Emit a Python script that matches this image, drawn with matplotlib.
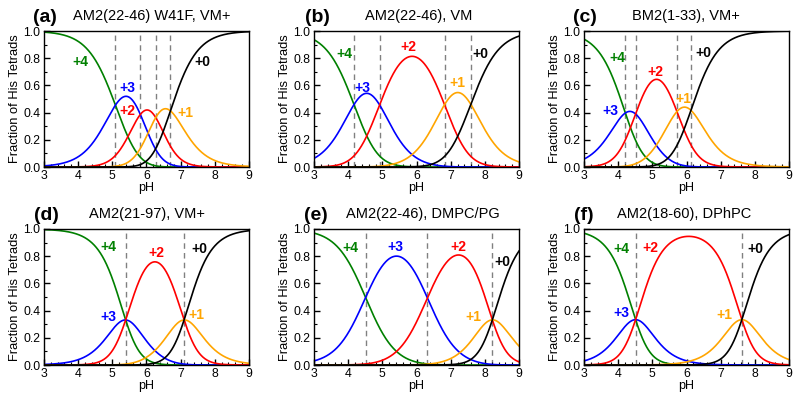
import numpy as np
import matplotlib
matplotlib.use("Agg")
import matplotlib.pyplot as plt
from matplotlib.ticker import MultipleLocator

plt.rcParams['font.family'] = ['Liberation Sans', 'DejaVu Sans']

# ---- data ----
panel_tags = ["(a)", "(b)", "(c)", "(d)", "(e)", "(f)"]
panel_titles = ["AM2(22-46) W41F, VM+", "AM2(22-46), VM", "BM2(1-33), VM+",
                "AM2(21-97), VM+", "AM2(22-46), DMPC/PG", "AM2(18-60), DPhPC"]
# four sequential pKa values of each His tetrad (dashed lines)
pka_a = [5.09, 5.82, 6.27, 6.70]
pka_b = [4.17, 4.92, 6.82, 7.59]
pka_c = [4.21, 4.51, 5.72, 6.13]
pka_d = [5.39, 5.39, 7.10, 7.10]
pka_e = [4.51, 6.32, 8.22, 8.22]
pka_f = [4.51, 4.51, 7.62, 7.62]
pkas = [pka_a, pka_b, pka_c, pka_d, pka_e, pka_f]
species = ["+4", "+3", "+2", "+1", "+0"]
colors = ["#008000", "#0000ff", "#ff0000", "#ffa500", "#000000"]
# label positions (pH, fraction) for +4, +3, +2, +1, +0
lab_a = [(4.07, 0.77), (5.44, 0.58), (5.44, 0.41), (7.15, 0.40), (7.63, 0.77)]
lab_b = [(3.88, 0.83), (4.43, 0.58), (5.75, 0.88), (7.20, 0.62), (7.88, 0.83)]
lab_c = [(3.97, 0.80), (3.78, 0.41), (5.10, 0.70), (5.90, 0.50), (6.48, 0.84)]
lab_d = [(4.87, 0.87), (4.87, 0.35), (6.29, 0.82), (7.46, 0.37), (7.56, 0.85)]
lab_e = [(4.07, 0.86), (5.39, 0.87), (7.21, 0.87), (7.65, 0.35), (8.51, 0.76)]
lab_f = [(4.09, 0.85), (4.09, 0.38), (4.95, 0.86), (7.10, 0.37), (8.02, 0.85)]
labels = [lab_a, lab_b, lab_c, lab_d, lab_e, lab_f]

# ---- layout ----
W, H = 800, 403
fig = plt.figure(figsize=(8.0, 4.03), dpi=100)
lefts = [44, 314, 584]
tops = [31, 229]
aw, ah = 205, 136
tag_x = [33, 305, 573, 34, 304, 574]
title_x = [73, 365, 632, 89, 346, 617]
title_y = [16, 214]

ph = np.linspace(3, 9, 601)

for i in range(6):
    r, c = divmod(i, 3)
    ax = fig.add_axes([lefts[c] / W, 1 - (tops[r] + ah) / H, aw / W, ah / H])
    pk = np.array(pkas[i])
    cum = np.concatenate([[0], np.cumsum(pk)])
    j = np.arange(5)
    logw = j[:, None] * ph[None, :] - cum[:, None]
    logw -= logw.max(axis=0)
    w = 10 ** logw
    frac = w / w.sum(axis=0)
    for p in sorted(set(pkas[i])):
        ax.axvline(p, color="#808080", ls=(0, (4, 3)), lw=1.0, zorder=1)
    for k in range(5):
        ax.plot(ph, frac[k], color=colors[k], lw=1.2, zorder=2)
        lx, ly = labels[i][k]
        ax.text(lx, ly, species[k], color=colors[k], fontsize=10, fontweight='bold',
                ha='center', va='center', zorder=3)
    ax.set_xlim(3, 9)
    ax.set_ylim(0, 1)
    ax.xaxis.set_major_locator(MultipleLocator(1))
    ax.xaxis.set_minor_locator(MultipleLocator(0.2))
    ax.yaxis.set_major_locator(MultipleLocator(0.2))
    ax.yaxis.set_minor_locator(MultipleLocator(0.1))
    ax.yaxis.set_major_formatter(plt.FuncFormatter(lambda v, p: f"{v:.1f}"))
    ax.tick_params(which='both', direction='in', top=False, right=False,
                   labelsize=8.8, pad=2.5)
    ax.tick_params(which='major', length=4, width=1)
    ax.tick_params(which='minor', length=2, width=0.8)
    for s in ax.spines.values():
        s.set_linewidth(1.0)
    ax.set_xlabel("pH", fontsize=9, labelpad=0)
    ax.set_ylabel("Fraction of His Tetrads", fontsize=9.3, labelpad=1.5)
    fig.text(tag_x[i] / W, 1 - (title_y[r] + 1) / H, panel_tags[i], fontsize=14,
             fontweight='bold', ha='left', va='center')
    fig.text(title_x[i] / W, 1 - title_y[r] / H, panel_titles[i], fontsize=10.5,
             ha='left', va='center')

fig.savefig("out.png", dpi=100)
